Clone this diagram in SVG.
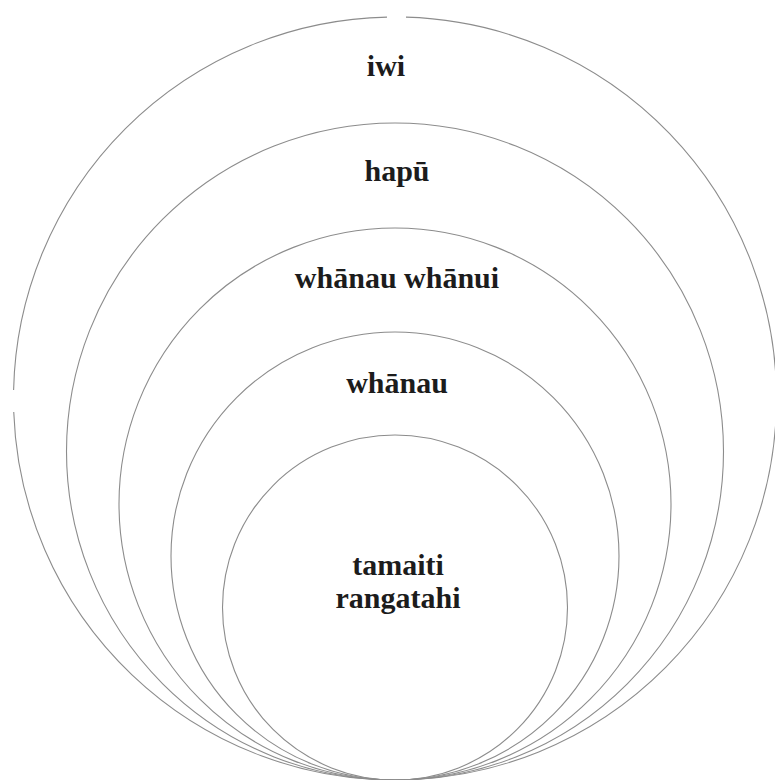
<svg xmlns="http://www.w3.org/2000/svg" width="775" height="780" viewBox="0 0 775 780">
  <style>
    .ring { fill: none; stroke: #8c8c8c; stroke-width: 1.1; }
    .lbl { font-family: "Liberation Serif", "Times New Roman", serif; font-weight: bold; font-size: 30px; fill: #1c1c1c; text-anchor: middle; }
  </style>
  <rect width="775" height="780" fill="#ffffff"/>
  <g id="iwi">
    <path class="ring" d="M406,17.16 A381.5,381.5 0 1 1 13.74,412 M13.6,390 A381.5,381.5 0 0 1 387,17.08"/>
    <text class="lbl" x="386" y="76">iwi</text>
  </g>
  <g id="hapu">
    <circle class="ring" cx="395" cy="451.5" r="328.5"/>
    <text class="lbl" x="397" y="181">hapū</text>
  </g>
  <g id="whanau-whanui">
    <circle class="ring" cx="395" cy="504" r="276"/>
    <text class="lbl" x="397" y="288">whānau whānui</text>
  </g>
  <g id="whanau">
    <circle class="ring" cx="395" cy="556" r="224"/>
    <text class="lbl" x="397" y="393">whānau</text>
  </g>
  <g id="tamaiti-rangatahi">
    <circle class="ring" cx="395" cy="607.5" r="172.5"/>
    <text class="lbl" x="398" y="575">tamaiti</text>
    <text class="lbl" x="398" y="608">rangatahi</text>
  </g>
  <g id="connectors"/>
</svg>
